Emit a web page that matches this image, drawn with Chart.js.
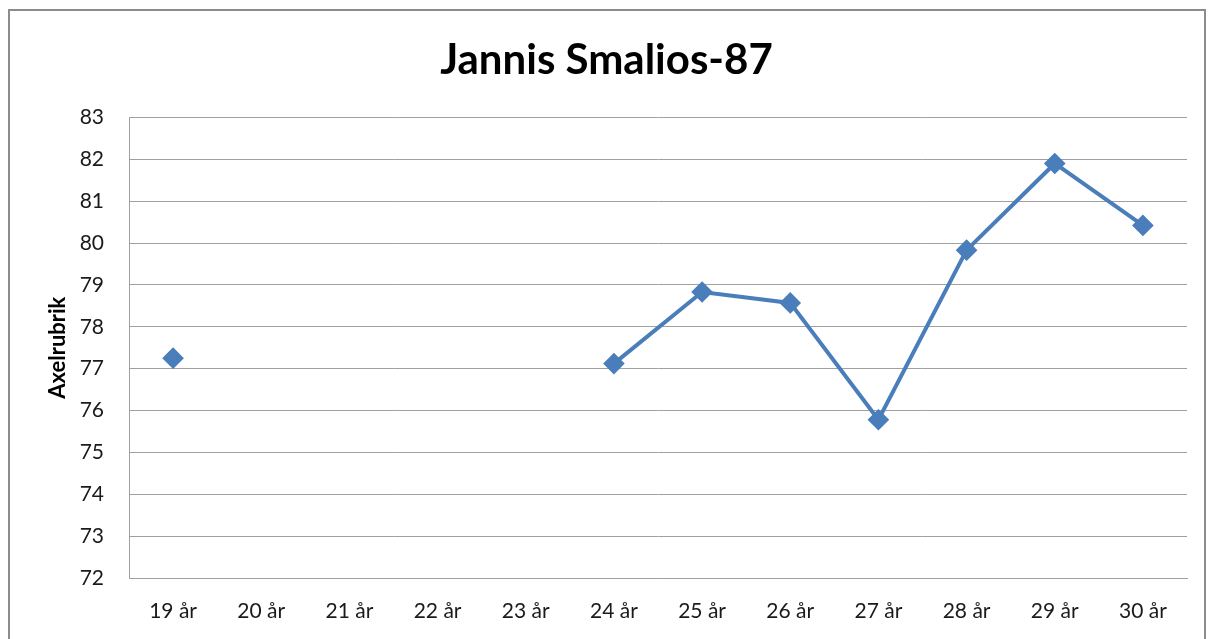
<!DOCTYPE html>
<html>
<head>
<meta charset="utf-8">
<script src="https://cdn.jsdelivr.net/npm/chart.js@4.4.1/dist/chart.umd.min.js"></script>
<style>
  html, body { margin: 0; padding: 0; background: #fff; overflow: hidden; }
  #wrap { position: relative; width: 1213px; height: 639px; }
  #frame {
    position: absolute; left: 8px; top: 9px; width: 1194px; height: 660px;
    border: 2px solid #8c8c8c; pointer-events: none;
  }
  canvas { position: absolute; left: 0; top: 0; }
</style>
</head>
<body>
<div id="wrap">
  <canvas id="chart" width="1213" height="639"></canvas>
  <div id="frame"></div>
</div>
<script>
(function() {
  'use strict';

  // kategorier (ålder)
  var ages = ['19 år', '20 år', '21 år', '22 år', '23 år', '24 år',
              '25 år', '26 år', '27 år', '28 år', '29 år', '30 år'];

  // värden
  var values = [77.25, null, null, null, null, 77.12, 78.83, 78.57, 75.78, 79.83, 81.9, 80.42];

  var yTicks = [72, 73, 74, 75, 76, 77, 78, 79, 80, 81, 82, 83];

  var fontFam = 'Lato, "Open Sans", sans-serif';

  var ctx = document.getElementById('chart');

  new Chart(ctx, {
    type: 'line',
    data: {
      labels: ages,
      datasets: [{
        data: values,
        borderColor: '#4a7ebb',
        backgroundColor: '#4a7ebb',
        borderWidth: 4,
        pointStyle: 'rectRot',
        pointRadius: 8,
        pointHoverRadius: 8,
        spanGaps: false,
        tension: 0
      }]
    },
    options: {
      responsive: false,
      animation: false,
      layout: { padding: 0 },
      plugins: {
        legend: { display: false },
        tooltip: { enabled: false },
        title: {
          display: true,
          text: 'Jannis Smalios-87',
          color: '#000',
          font: { family: fontFam, size: 42, weight: 'bold', lineHeight: 1.2 },
          padding: { top: 35, bottom: 32 }
        }
      },
      scales: {
        x: {
          offset: true,
          grid: { display: false, drawTicks: false },
          border: { display: true, color: '#a0a0a0', width: 1 },
          ticks: {
            color: '#1a1a1a',
            font: { family: fontFam, size: 21 },
            padding: 21,
            maxRotation: 0
          },
          afterFit: function(s) { s.height = 61; }
        },
        y: {
          min: 72,
          max: 83,
          afterBuildTicks: function(s) {
            s.ticks = yTicks.map(function(v) { return { value: v }; });
          },
          grid: { color: '#a0a0a0', lineWidth: 1, drawTicks: false },
          border: { display: true, color: '#a0a0a0', width: 1 },
          ticks: {
            color: '#1a1a1a',
            font: { family: fontFam, size: 21 },
            padding: 25
          },
          title: {
            display: true,
            text: 'Axelrubrik',
            color: '#000',
            font: { family: fontFam, size: 22, weight: 'bold', lineHeight: 1.2 },
            padding: { top: 45, bottom: 0 }
          },
          afterFit: function(s) { s.width = 129; }
        },
        // tom axel till höger, bara för marginalen
        yRight: {
          position: 'right',
          min: 72,
          max: 83,
          grid: { display: false, drawTicks: false },
          border: { display: false },
          ticks: { display: false },
          afterFit: function(s) { s.width = 26; }
        }
      }
    }
  });
})();
</script>
</body>
</html>
